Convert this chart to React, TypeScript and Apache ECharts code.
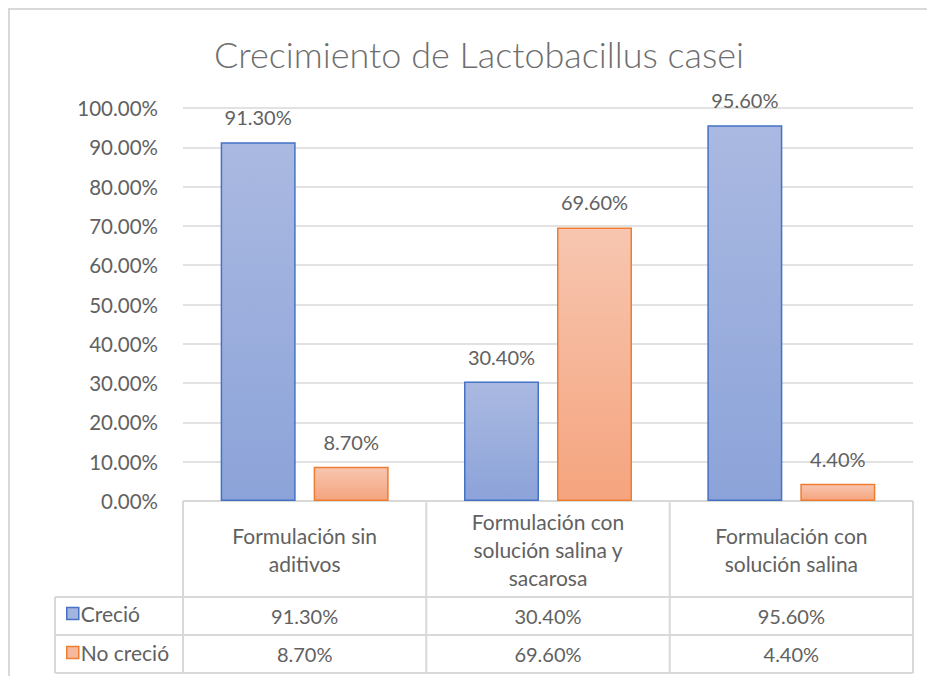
import React, { useEffect, useRef } from "react";
import * as echarts from "echarts";

const categories = ["Formulación sin\naditivos", "Formulación con\nsolución salina y\nsacarosa", "Formulación con\nsolución salina"];
const seriesNames = ["Creció", "No creció"];
const crecio = [0.913, 0.304, 0.956];
const noCrecio = [0.087, 0.696, 0.044];
const yTicks = [0, 0.1, 0.2, 0.3, 0.4, 0.5, 0.6, 0.7, 0.8, 0.9, 1.0];

const FONT = "Lato, 'Open Sans', sans-serif";
const TXT = "#616161";
const LINE = "#D9D9D9";

const pct = (v: number) => (v * 100).toFixed(2) + "%";

const blueFill = new echarts.graphic.LinearGradient(0, 0, 0, 1, [
  { offset: 0, color: "#AAB9E1" },
  { offset: 1, color: "#8CA3D9" },
]);
const orangeFill = new echarts.graphic.LinearGradient(0, 0, 0, 1, [
  { offset: 0, color: "#F7C6B0" },
  { offset: 1, color: "#F5A47E" },
]);

export default function App() {
  const ref = useRef<HTMLDivElement>(null);
  useEffect(() => {
    if (!ref.current) return;
    const chart = echarts.init(ref.current, null, { renderer: "svg" });
    const W = 927;
    const gridLeft = 183;
    const gridRight = 913;
    const gridTop = 108;
    const gridBottom = 501;
    const tableLeft = 55;
    const rowY = [501, 597, 635, 673];
    const colW = (gridRight - gridLeft) / categories.length;

    const graphics: any[] = [];
    graphics.push({
      type: "rect",
      shape: { x: 9, y: 9, width: 940, height: 700 },
      style: { fill: "none", stroke: LINE, lineWidth: 2 },
      silent: true,
    });
    graphics.push({ type: "line", shape: { x1: gridLeft, y1: rowY[0], x2: gridRight, y2: rowY[0] }, style: { stroke: LINE, lineWidth: 2 } });
    for (let i = 1; i < rowY.length; i++) {
      graphics.push({ type: "line", shape: { x1: tableLeft, y1: rowY[i], x2: gridRight, y2: rowY[i] }, style: { stroke: LINE, lineWidth: 2 } });
    }
    graphics.push({ type: "line", shape: { x1: tableLeft, y1: rowY[1], x2: tableLeft, y2: rowY[3] }, style: { stroke: LINE, lineWidth: 2 } });
    for (let c = 0; c <= categories.length; c++) {
      const x = gridLeft + c * colW;
      graphics.push({ type: "line", shape: { x1: x, y1: rowY[0], x2: x, y2: rowY[3] }, style: { stroke: LINE, lineWidth: 2 } });
    }
    const rows = [crecio, noCrecio];
    rows.forEach((vals, r) => {
      const cy = (rowY[r + 1] + rowY[r + 2]) / 2;
      vals.forEach((v, c) => {
        graphics.push({
          type: "text",
          x: gridLeft + (c + 0.5) * colW,
          y: cy,
          style: { text: pct(v), fill: TXT, font: `20px ${FONT}`, align: "center", verticalAlign: "middle" },
        });
      });
    });

    const labelCfg = { show: true, position: "top", distance: 15, color: TXT, fontFamily: FONT, fontSize: 20, formatter: (p: any) => pct(p.value) };

    chart.setOption({
      animation: false,
      title: {
        text: "Crecimiento de Lactobacillus casei",
        left: 474,
        textAlign: "center",
        top: 31,
        textStyle: { color: "#6E6E6E", fontFamily: FONT, fontSize: 36, fontWeight: 300 },
      },
      legend: {
        orient: "vertical",
        left: 61,
        top: 598,
        itemGap: 18,
        itemWidth: 12,
        itemHeight: 12,
        icon: "rect",
        textStyle: { color: TXT, fontFamily: FONT, fontSize: 21, padding: [0, 0, 0, -3] },
        data: [
          { name: seriesNames[0], itemStyle: { color: "#A3B4DF", borderColor: "#4472C4", borderWidth: 1.5 } },
          { name: seriesNames[1], itemStyle: { color: "#F6B89C", borderColor: "#ED7D31", borderWidth: 1.5 } },
        ],
      },
      grid: { left: gridLeft, right: W - gridRight, top: gridTop, bottom: 676 - gridBottom },
      xAxis: {
        type: "category",
        data: categories,
        axisLine: { show: false },
        axisTick: { show: false },
        axisLabel: {
          color: TXT,
          fontFamily: FONT,
          fontSize: 21,
          lineHeight: 28,
          margin: 48,
          verticalAlign: "middle",
          interval: 0,
        },
      },
      yAxis: {
        type: "value",
        min: yTicks[0],
        max: yTicks[yTicks.length - 1],
        interval: 0.1,
        axisLine: { show: false },
        axisTick: { show: false },
        splitLine: { lineStyle: { color: LINE, width: 1.5 } },
        axisLabel: {
          color: TXT,
          fontFamily: FONT,
          fontSize: 20.5,
          margin: 25,
          formatter: (v: number) => pct(v),
        },
      },
      series: [
        {
          name: seriesNames[0],
          type: "bar",
          data: crecio,
          barWidth: 75,
          barGap: "24%",
          itemStyle: { color: blueFill, borderColor: "#4472C4", borderWidth: 1.5 },
          label: labelCfg,
        },
        {
          name: seriesNames[1],
          type: "bar",
          data: noCrecio,
          barWidth: 75,
          barGap: "24%",
          itemStyle: { color: orangeFill, borderColor: "#ED7D31", borderWidth: 1.5 },
          label: labelCfg,
        },
      ],
      graphic: graphics,
    });
    return () => chart.dispose();
  }, []);
  return <div ref={ref} style={{ width: 927, height: 676, position: "absolute", left: 0, top: 0 }} />;
}
